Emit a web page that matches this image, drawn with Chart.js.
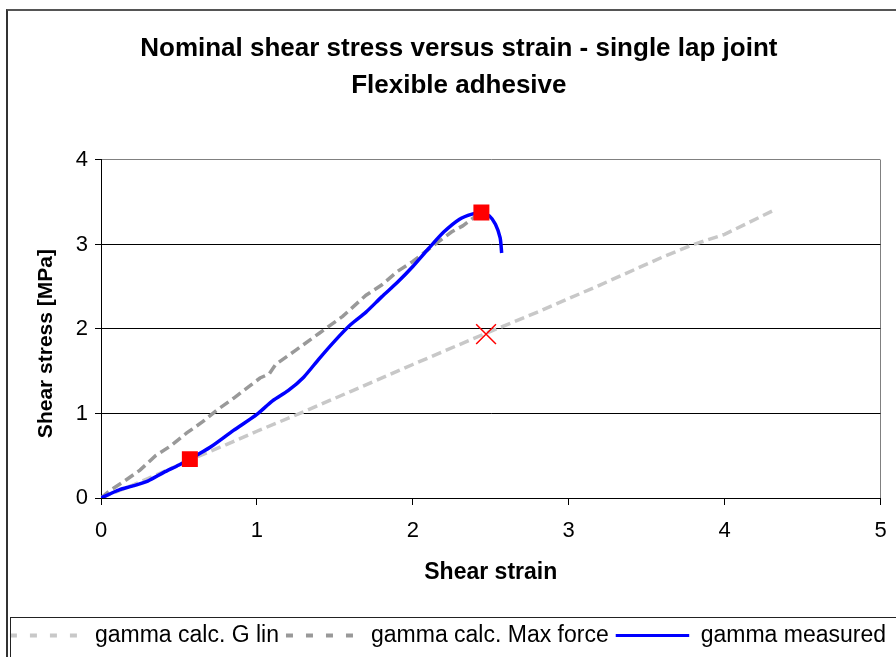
<!DOCTYPE html>
<html>
<head>
<meta charset="utf-8">
<title>Nominal shear stress versus strain</title>
<script src="https://cdn.jsdelivr.net/npm/chart.js@4.4.1/dist/chart.umd.min.js"></script>
<style>
  body { margin: 0; background: #fff; overflow: hidden; }
  #stage { position: relative; width: 896px; height: 657px; overflow: hidden; background: #fff; }
  #wrap { position: absolute; left: 0; top: 0; width: 896px; height: 657px; }
  .frame { position: absolute; pointer-events: none; }
  #outer { left: 6px; top: 9px; width: 1000px; height: 1000px; border-left: 2px solid #333; border-top: 2px solid #555; }
  #legbox { left: 10px; top: 617px; width: 1000px; height: 100px; border-left: 1px solid #222; border-top: 1px solid #222; }
</style>
</head>
<body>
<div id="stage">
  <div id="wrap"><canvas id="shearChart"></canvas></div>
  <div class="frame" id="outer"></div>
  <div class="frame" id="legbox"></div>
</div>
<script>
// values
const seriesNames = ['gamma calc. G lin', 'gamma calc. Max force', 'gamma measured'];

const strainMeasured = [0, 0.06, 0.12, 0.2, 0.3, 0.4, 0.5, 0.57, 0.7, 0.85, 1.0, 1.1, 1.2, 1.3, 1.4, 1.5, 1.6, 1.7, 1.8, 1.9, 2.0, 2.1, 2.2, 2.3, 2.38, 2.44, 2.49, 2.53, 2.56, 2.57];
const stressMeasured = [0, 0.05, 0.1, 0.14, 0.2, 0.3, 0.39, 0.46, 0.6, 0.8, 0.99, 1.15, 1.27, 1.43, 1.65, 1.86, 2.05, 2.2, 2.38, 2.55, 2.74, 2.95, 3.15, 3.3, 3.36, 3.38, 3.34, 3.24, 3.08, 2.9];

const strainMaxForce = [0, 0.05, 0.15, 0.25, 0.35, 0.45, 0.55, 0.65, 0.75, 0.85, 0.95, 1.02, 1.08, 1.12, 1.25, 1.4, 1.55, 1.7, 1.8, 1.9, 2.0, 2.14, 2.25, 2.32, 2.4];
const stressMaxForce = [0, 0.08, 0.2, 0.33, 0.5, 0.62, 0.77, 0.9, 1.05, 1.18, 1.32, 1.42, 1.47, 1.58, 1.75, 1.95, 2.15, 2.4, 2.52, 2.68, 2.8, 3.0, 3.15, 3.22, 3.33];

const strainGLin = [0, 0.2, 0.4, 0.57, 0.8, 1.0, 1.3, 1.6, 2.0, 2.47, 2.8, 3.2, 3.6, 3.8, 4.0, 4.31];
const stressGLin = [0, 0.15, 0.31, 0.45, 0.63, 0.79, 1.02, 1.26, 1.58, 1.95, 2.2, 2.52, 2.85, 3.0, 3.12, 3.4];

const squareStrain = [0.57, 2.44];
const squareStress = [0.46, 3.38];
const crossStrain = [2.47];
const crossStress = [1.94];

const pts = (xs, ys) => xs.map((x, i) => ({ x: x, y: ys[i] }));
const nb = '\u00a0';

Chart.defaults.font.family = "'Liberation Sans', Arial, sans-serif";
Chart.defaults.color = '#000';

const ctx = document.getElementById('shearChart').getContext('2d');
const shearChart = new Chart(ctx, {
    type: 'line',
    data: {
        datasets: [{
            label: 'max marks',
            data: pts(squareStrain, squareStress),
            showLine: false,
            pointStyle: 'rect',
            pointRadius: 11.3,
            pointBackgroundColor: '#ff0000',
            pointBorderWidth: 0,
            pointBorderColor: '#ff0000'
        }, {
            label: 'cross mark',
            data: pts(crossStrain, crossStress),
            showLine: false,
            pointStyle: 'crossRot',
            pointRadius: 14,
            pointBorderColor: '#ff0000',
            pointBorderWidth: 1.5
        }, {
            label: seriesNames[2],
            data: pts(strainMeasured, stressMeasured),
            borderColor: '#0000ff',
            backgroundColor: '#0000ff',
            borderWidth: 3.5,
            pointRadius: 0,
            tension: 0.25
        }, {
            label: seriesNames[1],
            data: pts(strainMaxForce, stressMaxForce),
            borderColor: '#999999',
            backgroundColor: '#999999',
            borderWidth: 3.5,
            borderDash: [10, 5],
            pointRadius: 0,
            tension: 0
        }, {
            label: seriesNames[0],
            data: pts(strainGLin, stressGLin),
            borderColor: '#c8c8c8',
            backgroundColor: '#c8c8c8',
            borderWidth: 3.5,
            borderDash: [10, 5],
            pointRadius: 0,
            tension: 0
        }]
    },
    options: {
        responsive: true,
        maintainAspectRatio: false,
        animation: false,
        layout: { padding: { left: 0, right: 0, top: 0, bottom: 0 } },
        scales: {
            x: {
                type: 'linear',
                min: 0,
                max: 5,
                ticks: { stepSize: 1, padding: 13, font: { size: 22 }, color: '#000' },
                grid: {
                    color: c => (c.tick && c.tick.value === 5) ? '#808080' : 'rgba(0,0,0,0)',
                    tickColor: '#000',
                    tickLength: 7
                },
                border: { color: '#000', width: 1 },
                title: {
                    display: true,
                    text: 'Shear strain',
                    font: { size: 23, weight: 'bold' },
                    color: '#000',
                    padding: { top: 0, bottom: 30.2 }
                },
                afterFit: s => {
                    s.height = 119;
                    s.paddingLeft = 0;
                    s.paddingRight = 0;
                }
            },
            y: {
                min: 0,
                max: 4,
                ticks: { stepSize: 1, padding: 7, font: { size: 22 }, color: '#000' },
                grid: {
                    color: c => {
                        if (!c.tick) return '#000';
                        if (c.tick.value === 4) return '#808080';
                        if (c.tick.value === 0) return 'rgba(0,0,0,0)';
                        return '#000';
                    },
                    tickColor: '#000',
                    tickLength: 6
                },
                border: { color: '#000', width: 1 },
                title: {
                    display: true,
                    text: 'Shear stress [MPa]' + nb.repeat(5),
                    font: { size: 21, weight: 'bold' },
                    color: '#000',
                    padding: { top: 33.4, bottom: 0 }
                },
                afterFit: s => { s.width = 101; }
            },
            // empty right-hand strip so the plot ends at x = 5 like the original
            yRight: {
                position: 'right',
                min: 0,
                max: 4,
                grid: { display: false },
                border: { display: false },
                ticks: { display: false },
                afterFit: s => { s.width = 13; }
            }
        },
        plugins: {
            title: {
                display: true,
                text: [nb.repeat(3) + 'Nominal shear stress versus strain - single lap joint', nb.repeat(3) + 'Flexible adhesive'],
                font: { size: 26, weight: 'bold', lineHeight: 1.423 },
                color: '#000',
                padding: { top: 30.5, bottom: 55.5 }
            },
            legend: {
                position: 'bottom',
                labels: {
                    boxWidth: 73.5,
                    boxHeight: 0,
                    padding: 7,
                    font: { size: 23 },
                    color: '#000',
                    filter: item => seriesNames.includes(item.text),
                    sort: (a, b) => b.datasetIndex - a.datasetIndex,
                    generateLabels: chart => {
                        const items = Chart.defaults.plugins.legend.labels.generateLabels(chart);
                        items.forEach(it => {
                            it.fillStyle = 'rgba(0,0,0,0)';
                            it.lineWidth = it.text === seriesNames[2] ? 3 : 4;
                            it.lineDash = it.text === seriesNames[2] ? [] : [7, 13];
                            it.lineCap = 'butt';
                        });
                        return items;
                    }
                }
            },
            tooltip: { enabled: false }
        }
    }
});
</script>
</body>
</html>
